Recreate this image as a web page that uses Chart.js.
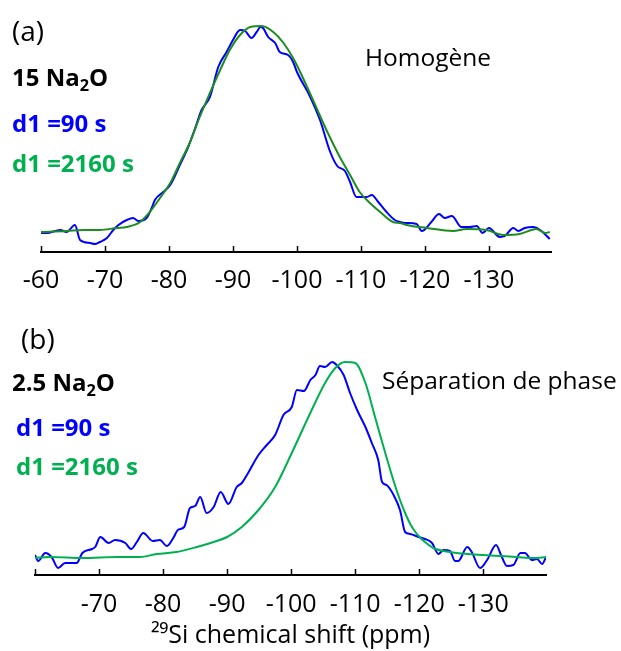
<!DOCTYPE html>
<html lang="fr">
<head>
  <meta charset="UTF-8">
  <title>29Si NMR - d1 90 s / 2160 s</title>
  <script src="https://cdn.jsdelivr.net/npm/chart.js"></script>
  <style>
    body { margin: 0; background: #fff; overflow: hidden; font-family: "Open Sans", sans-serif; }
    #page { position: relative; width: 621px; height: 651px; }
    canvas { position: absolute; left: 0; }
    .lbl { position: absolute; white-space: nowrap; line-height: 1; font-size: 24.5px; color: #000; }
    .bold { font-weight: bold; font-size: 24px; }
    .blue { color: #0000ff; }
    .green { color: #00b050; }
    sub { font-size: 0.68em; vertical-align: -0.3em; line-height: 0; }
  </style>
</head>
<body>
<div id="page">
  <canvas id="chartA" width="621" height="300" style="top:0"></canvas>
  <canvas id="chartB" width="621" height="351" style="top:300px"></canvas>

  <div class="lbl" style="left:12px; top:16px; font-size:28px;">(a)</div>
  <div class="lbl bold" style="left:12px; top:65px;">15 Na<sub>2</sub>O</div>
  <div class="lbl bold blue" style="left:12px; top:111px;">d1 =90 s</div>
  <div class="lbl bold green" style="left:12px; top:151px;">d1 =2160 s</div>
  <div class="lbl" style="left:365px; top:45px;">Homogène</div>

  <div class="lbl" style="left:21px; top:324px; font-size:28px;">(b)</div>
  <div class="lbl bold" style="left:12px; top:370px;">2.5 Na<sub>2</sub>O</div>
  <div class="lbl bold blue" style="left:16px; top:415px;">d1 =90 s</div>
  <div class="lbl bold green" style="left:16px; top:454px;">d1 =2160 s</div>
  <div class="lbl" style="left:382px; top:368px;">Séparation de phase</div>
</div>

<script>
  // (a) 15 Na2O - d1 = 90 s
  const shiftA90 = [-60.0, -60.9, -63.0, -64.0, -65.3, -66.1, -67.7, -68.4, -69.2, -70.3, -71.3, -72.1, -73.4, -74.4, -75.2, -76.5, -77.3, -77.8, -79.1, -80.2, -81.7, -83.0, -84.1, -85.1, -86.4, -87.7, -89.0, -90.0, -91.1, -91.9, -92.9, -93.7, -94.3, -94.7, -95.5, -96.6, -97.3, -98.6, -99.4, -100.0, -102.0, -103.6, -105.2, -106.3, -107.5, -108.3, -109.3, -110.9, -111.7, -112.7, -114.0, -115.3, -116.1, -117.0, -118.7, -119.5, -121.0, -122.2, -123.1, -124.2, -125.7, -127.0, -128.1, -129.0, -130.0, -131.7, -132.5, -133.8, -134.6, -135.6, -136.9, -138.0, -139.5];
  const intA90 = [-1, -1, 2, 0, 7, -8, -11, -12, -10, -6, 2, 7, 12, 14, 11, 14, 24, 32, 40, 47, 67, 85, 104, 122, 135, 165, 180, 192, 202, 201, 194, 200, 205, 204, 195, 189, 180, 177, 170, 160, 136, 112, 80, 66, 61, 50, 35, 35, 37, 30, 20, 12, 10, 9, 8, 1, 10, 18, 14, 16, 5, 5, 6, -1, 4, -5, -4, 4, 1, 4, 5, 2, -7];

  // (a) 15 Na2O - d1 = 2160 s
  const shiftA2160 = [-60.0, -64.0, -66.6, -69.2, -71.8, -73.4, -75.5, -77.0, -78.6, -80.2, -81.7, -83.3, -84.8, -86.4, -88.0, -89.5, -91.1, -92.7, -94.5, -96.3, -97.9, -99.4, -100.5, -102.5, -104.6, -106.7, -108.3, -109.8, -111.4, -113.0, -115.0, -116.1, -117.1, -120.3, -124.4, -126.5, -129.6, -132.2, -134.8, -137.4, -138.8, -139.5];
  const intA2160 = [0, 1, 2, 2, 4, 5, 10, 20, 34, 49, 69, 90, 115, 139, 162, 182, 197, 205, 206, 200, 189, 174, 160, 132, 102, 75, 57, 40, 29, 20, 10, 9, 7, 4, 1, 3, 2, -3, -2, 3, -1, 0];

  // (b) 2.5 Na2O - d1 = 90 s
  const shiftB90 = [-60.0, -60.5, -61.6, -62.6, -63.6, -64.7, -65.7, -66.5, -67.4, -68.9, -69.4, -70.2, -71.5, -72.5, -74.1, -75.0, -75.9, -76.9, -78.4, -79.5, -80.6, -81.6, -82.3, -83.3, -84.2, -85.0, -85.8, -86.8, -87.9, -89.0, -90.2, -91.5, -92.3, -93.1, -94.9, -96.2, -97.5, -98.8, -100.1, -100.9, -102.0, -103.0, -103.8, -104.5, -105.3, -106.4, -107.1, -108.2, -109.2, -110.3, -111.6, -112.6, -113.6, -114.2, -114.9, -116.0, -117.0, -117.8, -118.6, -119.9, -120.9, -122.0, -123.0, -123.8, -124.8, -125.6, -126.1, -127.5, -128.2, -129.5, -130.6, -132.0, -132.9, -133.7, -134.7, -135.8, -136.5, -137.6, -138.4, -139.2, -139.8];
  const intB90 = [2, -4, 4, 0, -11, -6, -6, -6, 4, 8, 10, 20, 14, 17, 14, 8, 15, 24, 16, 17, 11, 19, 27, 30, 49, 51, 60, 44, 50, 65, 53, 70, 74, 82, 102, 112, 122, 142, 150, 167, 166, 177, 182, 191, 190, 195, 192, 182, 164, 147, 130, 114, 97, 75, 72, 62, 47, 25, 23, 20, 18, 14, 3, 7, 6, -4, -4, 10, 5, -11, -3, 12, 0, -9, -8, 4, 4, -3, -2, -7, 0];

  // (b) 2.5 Na2O - d1 = 2160 s
  const shiftB2160 = [-60.0, -62.3, -67.5, -72.8, -76.4, -79.0, -82.1, -85.3, -87.9, -90.0, -92.3, -94.9, -97.5, -100.1, -102.7, -105.3, -106.9, -108.4, -110.0, -111.6, -113.1, -114.7, -116.3, -117.0, -117.8, -118.6, -119.4, -120.2, -120.9, -122.2, -124.8, -127.5, -130.0, -132.6, -135.2, -137.9, -139.8];
  const intB2160 = [-1, 0, -1, 0, 0, 3, 5, 10, 15, 20, 30, 47, 70, 104, 140, 174, 189, 195, 194, 174, 140, 104, 70, 57, 44, 33, 25, 19, 15, 9, 5, 3, 2, 1, 0, -1, 0];

  const tickStep = 10;

  const pts = (xs, ys) => xs.map((x, i) => ({ x: x, y: ys[i] }));

  // tick marks pointing up into the plot, like the original figure
  const innerTicks = {
    id: 'innerTicks',
    afterDraw(chart) {
      const s = chart.scales.x;
      const ctx = chart.ctx;
      ctx.save();
      ctx.strokeStyle = '#000';
      ctx.lineWidth = 1.5;
      s.ticks.forEach(t => {
        const x = Math.round(s.getPixelForValue(t.value)) + 0.5;
        ctx.beginPath();
        ctx.moveTo(x, s.top);
        ctx.lineTo(x, s.top - 6);
        ctx.stroke();
      });
      ctx.restore();
    }
  };

  function line(data, color) {
    return {
      data: data,
      borderColor: color,
      borderWidth: 2,
      pointRadius: 0,
      fill: false,
      cubicInterpolationMode: 'monotone'
    };
  }

  function makeChart(id, datasets, o) {
    new Chart(document.getElementById(id), {
      type: 'line',
      data: { datasets: datasets },
      options: {
        responsive: false,
        animation: false,
        layout: { padding: { left: o.left, right: o.right, top: o.top, bottom: 0 } },
        plugins: { legend: { display: false }, tooltip: { enabled: false } },
        scales: {
          x: {
            type: 'linear',
            reverse: true,
            min: o.xMin,
            max: -60,
            afterFit: s => { s.height = o.axisH; },
            grid: { display: false, drawTicks: false },
            border: { display: true, color: '#000', width: 2 },
            ticks: {
              stepSize: tickStep,
              includeBounds: false,
              autoSkip: false,
              maxRotation: 0,
              padding: o.tickPad,
              color: '#000',
              font: { family: 'Open Sans', size: 25 },
              callback: v => (o.hide.includes(v) ? '' : String(v))
            },
            title: {
              display: !!o.title,
              text: o.title || '',
              color: '#000',
              font: { family: 'Open Sans', size: 25 },
              padding: { top: 0, bottom: 0 }
            }
          },
          y: { display: false, min: o.yMin, max: o.yMax }
        }
      },
      plugins: [innerTicks]
    });
  }

  makeChart('chartA', [
    line(pts(shiftA2160, intA2160), '#1e8c1e'),
    line(pts(shiftA90, intA90), '#0000ff')
  ], { left: 41, right: 70, top: 20, axisH: 48, tickPad: 14, xMin: -139.7, yMin: -20, yMax: 212, hide: [] });

  makeChart('chartB', [
    line(pts(shiftB2160, intB2160), '#00b050'),
    line(pts(shiftB90, intB90), '#0000ff')
  ], { left: 35, right: 75, top: 30, axisH: 76, tickPad: 15, xMin: -139.8, yMin: -18, yMax: 227, hide: [-60],
       title: '²⁹Si chemical shift (ppm)' });
</script>
</body>
</html>
